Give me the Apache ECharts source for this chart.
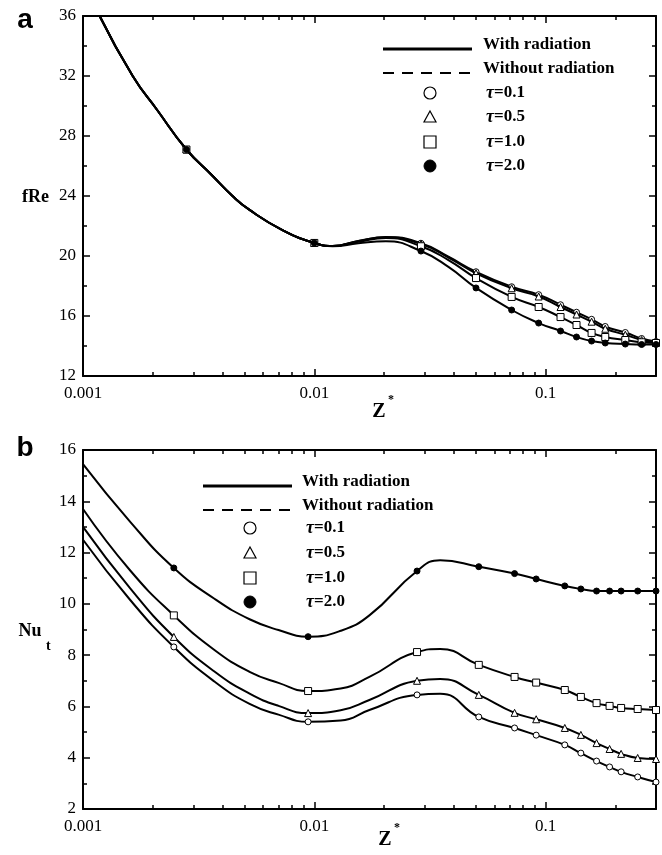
<!DOCTYPE html>
<html>
<head>
<meta charset="utf-8">
<script src="https://cdn.jsdelivr.net/npm/echarts@6/dist/echarts.min.js"></script>
<style>
  html, body { margin: 0; padding: 0; background: #fff; }
  #main { width: 662px; height: 855px; }
</style>
</head>
<body>
<div id="main"></div>
<script>
// panel a : fRe vs Z*
const zA = [0.00118, 0.00164, 0.0021, 0.0028, 0.0036, 0.00443, 0.00525, 0.00728, 0.01, 0.012, 0.0155, 0.0204, 0.0289, 0.038, 0.05, 0.0713, 0.0933, 0.116, 0.136, 0.158, 0.181, 0.221, 0.26, 0.3];
const fReTau01 = [36, 32, 29.7, 27.1, 25.4, 24, 23.07, 21.73, 20.87, 20.67, 21.0, 21.27, 20.85, 19.95, 18.95, 17.95, 17.42, 16.75, 16.25, 15.78, 15.3, 14.9, 14.5, 14.3];
const fReTau05 = [36, 32, 29.7, 27.1, 25.4, 24, 23.07, 21.73, 20.87, 20.67, 21.0, 21.25, 20.8, 19.9, 18.85, 17.85, 17.3, 16.6, 16.1, 15.62, 15.15, 14.75, 14.4, 14.25];
const fReTau10 = [36, 32, 29.7, 27.1, 25.4, 24, 23.07, 21.73, 20.87, 20.67, 20.95, 21.2, 20.65, 19.73, 18.53, 17.27, 16.6, 15.93, 15.4, 14.87, 14.6, 14.4, 14.25, 14.2];
const fReTau20 = [36, 32, 29.7, 27.1, 25.4, 24, 23.07, 21.73, 20.87, 20.65, 20.85, 20.98, 20.33, 19.27, 17.87, 16.4, 15.53, 15.0, 14.6, 14.33, 14.2, 14.13, 14.1, 14.1];
const markA = [3, 8, 12, 14, 15, 16, 17, 18, 19, 20, 21, 22, 23];

// panel b : Nu_t vs Z*
const zB = [0.001, 0.0016, 0.00247, 0.0037, 0.00525, 0.007, 0.0094, 0.013, 0.0173, 0.0278, 0.035, 0.0514, 0.0734, 0.091, 0.121, 0.142, 0.166, 0.189, 0.212, 0.25, 0.3];
const nuTau01 = [12.5, 10.15, 8.32, 6.97, 6.1, 5.68, 5.4, 5.45, 5.86, 6.45, 6.49, 5.59, 5.16, 4.88, 4.5, 4.18, 3.87, 3.64, 3.45, 3.25, 3.05];
const nuTau05 = [13.0, 10.6, 8.71, 7.36, 6.5, 6.02, 5.74, 5.85, 6.25, 7.0, 7.07, 6.45, 5.75, 5.5, 5.16, 4.89, 4.57, 4.34, 4.15, 3.99, 3.95];
const nuTau10 = [13.7, 11.3, 9.55, 8.2, 7.35, 6.92, 6.6, 6.7, 7.15, 8.12, 8.24, 7.62, 7.15, 6.93, 6.64, 6.37, 6.13, 6.02, 5.94, 5.9, 5.86];
const nuTau20 = [15.45, 13.2, 11.4, 10.2, 9.4, 8.98, 8.72, 8.95, 9.55, 11.28, 11.7, 11.45, 11.18, 10.97, 10.7, 10.58, 10.5, 10.5, 10.5, 10.5, 10.5];
const markB = [2, 6, 9, 11, 12, 13, 14, 15, 16, 17, 18, 19, 20];

const tauLabels = ['τ=0.1', 'τ=0.5', 'τ=1.0', 'τ=2.0'];
const legendLines = ['With radiation', 'Without radiation'];
const xTickLabels = [0.001, 0.01, 0.1];

const serif = '"Liberation Serif", "Times New Roman", serif';
const black = '#000';

// marker look per tau
const symbols = ['circle', 'triangle', 'rect', 'circle'];
const symSizes = [6, 7, 7, 6];
const symFill = ['#fff', '#fff', '#fff', '#000'];

// tick positions (log10 space) for the decade axes
const xMax = 0.3;
const majorLog = xTickLabels.map(v => Math.log10(v));
const minorLog = [];
xTickLabels.forEach(d => {
    for (let k = 2; k <= 9; k++) {
        if (k * d <= xMax + 1e-9) minorLog.push(Math.log10(k * d));
    }
});

const chart = echarts.init(document.getElementById('main'), null, { renderer: 'canvas' });

function xAxesFor(gi) {
    const tickAxis = (pos, vals, len, line) => ({
        type: 'value', gridIndex: gi, position: pos,
        min: -3, max: Math.log10(xMax),
        axisLine: { show: line, lineStyle: { color: black, width: 2 } },
        axisTick: { show: true, inside: true, length: len, customValues: vals, lineStyle: { color: black, width: 1.5 } },
        axisLabel: { show: false },
        splitLine: { show: false }
    });
    return [
        {
            type: 'log', logBase: 10, gridIndex: gi, position: 'bottom',
            min: 0.001, max: xMax,
            axisLine: { show: true, lineStyle: { color: black, width: 2 } },
            axisTick: { show: false },
            minorTick: { show: false },
            splitLine: { show: false },
            axisLabel: {
                color: black, fontFamily: serif, fontSize: 17, margin: 9,
                formatter: v => {
                    const e = Math.log10(v);
                    return Math.abs(e - Math.round(e)) < 1e-6 ? String(+v.toPrecision(1)) : '';
                }
            }
        },
        tickAxis('bottom', majorLog, 7, false),
        tickAxis('bottom', minorLog, 4, false),
        tickAxis('top', majorLog, 7, true),
        tickAxis('top', minorLog, 4, false)
    ];
}

function yAxesFor(gi, min, max, interval) {
    const base = {
        type: 'value', gridIndex: gi, min: min, max: max, interval: interval,
        axisLine: { show: true, lineStyle: { color: black, width: 2 } },
        axisTick: { show: true, inside: true, length: 7, lineStyle: { color: black, width: 1.5 } },
        minorTick: { show: true, splitNumber: 2, length: 4, lineStyle: { color: black, width: 1.5 } },
        splitLine: { show: false }
    };
    return [
        Object.assign({}, base, {
            position: 'left',
            axisLabel: { color: black, fontFamily: serif, fontSize: 17, margin: 7 }
        }),
        Object.assign({}, base, { position: 'right', axisLabel: { show: false } })
    ];
}

function curve(xs, ys, marks, t, xIdx, yIdx) {
    return {
        type: 'line',
        name: tauLabels[t],
        xAxisIndex: xIdx,
        yAxisIndex: yIdx,
        smooth: 0.5,
        symbol: symbols[t],
        showSymbol: true,
        showAllSymbol: true,
        data: xs.map((x, i) => ({
            value: [x, ys[i]],
            symbolSize: marks.includes(i) ? symSizes[t] : 0
        })),
        lineStyle: { color: black, width: 2 },
        itemStyle: { color: symFill[t], borderColor: black, borderWidth: 1 },
        z: 3 + t,
        animation: false
    };
}

// legend drawn as graphics
function legendGraphics(x0, y0, x1, textX, markX, tauX, rowY) {
    const g = [];
    const txt = (x, y, s, size) => ({
        type: 'text', x: x, y: y,
        style: { text: s, fill: black, fontFamily: serif, fontWeight: 'bold', fontSize: size, verticalAlign: 'middle' }
    });
    g.push({ type: 'line', shape: { x1: x0, y1: y0, x2: x1, y2: y0 }, style: { stroke: black, lineWidth: 3 } });
    g.push(txt(textX, y0 - 4, legendLines[0], 17));
    g.push({ type: 'line', shape: { x1: x0, y1: y0 + 24, x2: x1, y2: y0 + 24 }, style: { stroke: black, lineWidth: 2, lineDash: [11, 8] } });
    g.push(txt(textX, y0 + 20, legendLines[1], 17));
    const r = 6;
    rowY.forEach((y, t) => {
        if (t === 0) g.push({ type: 'circle', shape: { cx: markX, cy: y, r: r }, style: { fill: '#fff', stroke: black, lineWidth: 1.2 } });
        if (t === 1) g.push({ type: 'polygon', shape: { points: [[markX, y - 6], [markX + 6, y + 5], [markX - 6, y + 5]] }, style: { fill: '#fff', stroke: black, lineWidth: 1.2 } });
        if (t === 2) g.push({ type: 'rect', shape: { x: markX - 6, y: y - 6, width: 12, height: 12 }, style: { fill: '#fff', stroke: black, lineWidth: 1.2 } });
        if (t === 3) g.push({ type: 'circle', shape: { cx: markX, cy: y, r: r }, style: { fill: black, stroke: black, lineWidth: 1 } });
        g.push({
            type: 'text', x: tauX, y: y,
            style: {
                text: '{t|τ}{v|' + tauLabels[t].slice(1) + '}',
                verticalAlign: 'middle',
                rich: {
                    t: { fontFamily: serif, fontStyle: 'italic', fontWeight: 'bold', fontSize: 18, fill: black },
                    v: { fontFamily: serif, fontWeight: 'bold', fontSize: 17, fill: black }
                }
            }
        });
    });
    return g;
}

const labelText = (x, y, s, size, family, align) => ({
    type: 'text', x: x, y: y,
    style: { text: s, fill: black, fontFamily: family || serif, fontWeight: 'bold', fontSize: size, align: align || 'left', verticalAlign: 'middle' }
});

const graphics = [
    labelText(25, 20, 'a', 28, '"Liberation Sans", Arial, sans-serif', 'center'),
    labelText(25, 448, 'b', 28, '"Liberation Sans", Arial, sans-serif', 'center'),
    labelText(49, 197, 'fRe', 18, serif, 'right'),
    labelText(30, 631, 'Nu', 18, serif, 'center'),
    labelText(46, 646, 't', 14, serif, 'left'),
    labelText(379, 412, 'Z', 20, serif, 'center'),
    labelText(388, 400, '*', 12, serif, 'left'),
    labelText(385, 840, 'Z', 20, serif, 'center'),
    labelText(394, 828, '*', 12, serif, 'left')
].concat(
    legendGraphics(383, 49, 472, 483, 430, 486, [93, 117, 142, 166]),
    legendGraphics(203, 486, 292, 302, 250, 306, [528, 553, 578, 602])
);

const xAxes = xAxesFor(0).concat(xAxesFor(1));
const yAxes = yAxesFor(0, 12, 36, 4).concat(yAxesFor(1, 2, 16, 2));

const series = [
    curve(zA, fReTau01, markA, 0, 0, 0),
    curve(zA, fReTau05, markA, 1, 0, 0),
    curve(zA, fReTau10, markA, 2, 0, 0),
    curve(zA, fReTau20, markA, 3, 0, 0),
    curve(zB, nuTau01, markB, 0, 5, 2),
    curve(zB, nuTau05, markB, 1, 5, 2),
    curve(zB, nuTau10, markB, 2, 5, 2),
    curve(zB, nuTau20, markB, 3, 5, 2)
];

chart.setOption({
    backgroundColor: '#fff',
    animation: false,
    grid: [
        { left: 83, top: 16, width: 573, height: 360 },
        { left: 83, top: 450, width: 573, height: 359 }
    ],
    xAxis: xAxes,
    yAxis: yAxes,
    series: series,
    graphic: graphics
});
</script>
</body>
</html>
